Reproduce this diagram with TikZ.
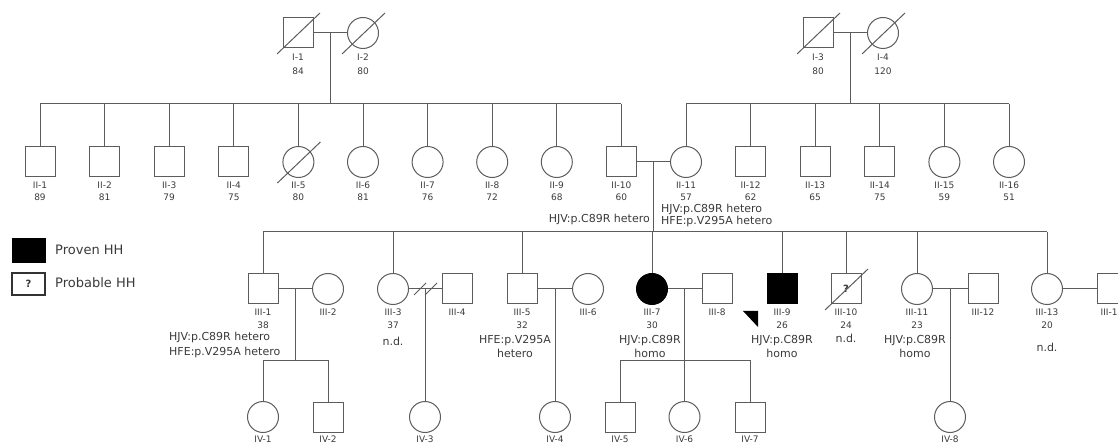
\documentclass[tikz,border=0pt]{standalone}
\usepackage{fontspec}
\setmainfont{DejaVu Sans}
\usepackage{tikz}
\usetikzlibrary{positioning,calc}
\definecolor{pdline}{HTML}{5C5C5C}
\definecolor{pdtext}{HTML}{3A3A3A}
\definecolor{pdfill}{HTML}{000000}

\begin{document}
\begin{tikzpicture}[x=1pt, y=-1pt,
  male/.style={draw=pdline, line width=1pt, minimum size=30pt, inner sep=0pt},
  female/.style={male, circle, minimum size=31pt},
  affected/.style={fill=pdfill, draw=pdfill},
  link/.style={draw=pdline, line width=1pt},
  lbl/.style={font=\fontsize{9}{9}\selectfont, text=pdtext, inner sep=0pt,
    text height=6.5pt, text depth=1.5pt},
  note/.style={lbl, font=\fontsize{11}{11}\selectfont, text height=8pt, text depth=2pt},
  keytext/.style={lbl, font=\fontsize{13}{13}\selectfont, text height=9.5pt, text depth=2.5pt},
  ]
  \useasboundingbox (0,0) rectangle (1118,443);

  % generation I
  \node[male] (i1) at (298,33) {};
  \node[female] (i2) at (363,33) {};
  \node[male] (i3) at (818,33) {};
  \node[female] (i4) at (883,33) {};
  \node[lbl] (i1n) at (298,58) {I-1};  \node[lbl] (i1a) at (298,72) {84};
  \node[lbl] (i2n) at (363,58) {I-2};  \node[lbl] (i2a) at (363,72) {80};
  \node[lbl] (i3n) at (818,58) {I-3};  \node[lbl] (i3a) at (818,72) {80};
  \node[lbl] (i4n) at (883,58) {I-4};  \node[lbl] (i4a) at (883,72) {120};

  % generation II
  \node[male] (ii1) at (40,162) {};
  \node[male] (ii2) at (104.6,162) {};
  \node[male] (ii3) at (169.2,162) {};
  \node[male] (ii4) at (233.8,162) {};
  \node[female] (ii5) at (298.4,162) {};
  \node[female] (ii6) at (363,162) {};
  \node[female] (ii7) at (427.6,162) {};
  \node[female] (ii8) at (492.2,162) {};
  \node[female] (ii9) at (556.8,162) {};
  \node[male] (ii10) at (621.4,162) {};
  \node[female] (ii11) at (686,162) {};
  \node[male] (ii12) at (750.6,162) {};
  \node[male] (ii13) at (815.2,162) {};
  \node[male] (ii14) at (879.8,162) {};
  \node[female] (ii15) at (944.4,162) {};
  \node[female] (ii16) at (1009,162) {};
  \foreach \k/\age in {1/89,2/81,3/79,4/75,5/80,6/81,7/76,8/72,9/68,10/60,
                       11/57,12/62,13/65,14/75,15/59,16/51}{
    \node[lbl] (ii\k n) at ($(ii\k)+(0,24)$) {II-\k};
    \node[lbl] (ii\k a) at ($(ii\k)+(0,36)$) {\age};
  }
  \node[note, anchor=east] (ii10g) at (650,220) {HJV:p.C89R hetero};
  \node[note, anchor=west] (ii11g) at (661,210) {HJV:p.C89R hetero};
  \node[note, anchor=west] (ii11h) at (661,222) {HFE:p.V295A hetero};

  % generation III
  \node[male] (iii1) at (263,289) {};
  \node[female] (iii2) at (328,289) {};
  \node[female] (iii3) at (393,289) {};
  \node[male] (iii4) at (457,289) {};
  \node[male] (iii5) at (522,289) {};
  \node[female] (iii6) at (588,289) {};
  \node[female, affected] (iii7) at (652,289) {};
  \node[male] (iii8) at (717,289) {};
  \node[male, affected] (iii9) at (782,289) {};
  \node[male, font=\fontsize{10}{10}\selectfont\bfseries, text=pdtext] (iii10) at (846,289) {?};
  \node[female] (iii11) at (917,289) {};
  \node[male] (iii12) at (983,289) {};
  \node[female] (iii13) at (1047,289) {};
  \node[male] (iii14) at (1112,289) {};
  \foreach \k in {1,...,14}
    \node[lbl] (iii\k n) at ($(iii\k)+(0,24)$) {III-\k};
  \node[lbl] (iii1a) at (263,326) {38};
  \node[note, anchor=west] (iii1g) at (169,337) {HJV:p.C89R hetero};
  \node[note, anchor=west] (iii1h) at (169,352) {HFE:p.V295A hetero};
  \node[lbl] (iii3a) at (393,326) {37};
  \node[note] (iii3g) at (393,342) {n.d.};
  \node[lbl] (iii5a) at (522,326) {32};
  \node[note] (iii5g) at (515,340) {HFE:p.V295A};
  \node[note] (iii5h) at (515,354) {hetero};
  \node[lbl] (iii7a) at (652,326) {30};
  \node[note] (iii7g) at (650,340) {HJV:p.C89R};
  \node[note] (iii7h) at (650,354) {homo};
  \node[lbl] (iii9a) at (782,326) {26};
  \node[note] (iii9g) at (782,340) {HJV:p.C89R};
  \node[note] (iii9h) at (782,354) {homo};
  \node[lbl] (iii10a) at (846,326) {24};
  \node[note] (iii10g) at (846,339) {n.d.};
  \node[lbl] (iii11a) at (917,326) {23};
  \node[note] (iii11g) at (915,340) {HJV:p.C89R};
  \node[note] (iii11h) at (915,354) {homo};
  \node[lbl] (iii13a) at (1047,326) {20};
  \node[note] (iii13g) at (1047,348) {n.d.};

  % generation IV
  \node[female] (iv1) at (263,417) {};
  \node[male] (iv2) at (328,417) {};
  \node[female] (iv3) at (425,417) {};
  \node[female] (iv4) at (555,417) {};
  \node[male] (iv5) at (620,417) {};
  \node[female] (iv6) at (684.5,417) {};
  \node[male] (iv7) at (750,417) {};
  \node[female] (iv8) at (950,417) {};
  \foreach \k in {1,...,8}
    \node[lbl] (iv\k n) at ($(iv\k)+(0,23)$) {IV-\k};

  % legend
  \node[male, affected, minimum width=33pt, minimum height=24pt] (kprov) at (28.5,251) {};
  \node[keytext, anchor=west] (kprovt) at (55,251) {Proven HH};
  \node[male, line width=1.3pt, draw=black!80, minimum width=33pt, minimum height=22pt,
    font=\fontsize{10}{10}\selectfont\bfseries, text=pdtext] (kprob) at (28.5,284) {?};
  \node[keytext, anchor=west] (kprobt) at (55,284) {Probable HH};

  % couples and lines of descent
  \coordinate (s2) at (0,104);
  \coordinate (s3) at (0,232);
  \coordinate (s4) at (0,360);
  \coordinate (c1) at ($(i1)!0.5!(i2)$);
  \coordinate (c2) at ($(i3)!0.5!(i4)$);
  \coordinate (c3) at ($(ii10)!0.5!(ii11)$);
  \coordinate (c4) at ($(iii1)!0.5!(iii2)$);
  \coordinate (c5) at ($(iii3)!0.5!(iii4)$);
  \coordinate (c6) at ($(iii5)!0.5!(iii6)$);
  \coordinate (c7) at ($(iii7)!0.5!(iii8)$);
  \coordinate (c8) at ($(iii11)!0.5!(iii12)$);

  \draw[link] (i1) -- (i2);
  \draw[link] (i3) -- (i4);
  \draw[link] (c1) -- (c1 |- s2);
  \draw[link] (c2) -- (c2 |- s2);
  \draw[link] (ii1.north |- s2) -- (ii10.north |- s2);
  \draw[link] (ii11.north |- s2) -- (ii16.north |- s2);
  \foreach \k in {1,...,16}
    \draw[link] (ii\k.north) -- (ii\k.north |- s2);

  \draw[link] (ii10) -- (ii11);
  \draw[link] (c3) -- (c3 |- s3);
  \draw[link] (iii1.north |- s3) -- (iii13.north |- s3);
  \foreach \k in {1,3,5,7,9,10,11,13}
    \draw[link] (iii\k.north) -- (iii\k.north |- s3);

  \draw[link] (iii1) -- (iii2);
  \draw[link] (iii3) -- (iii4);
  \draw[link] (iii5) -- (iii6);
  \draw[link] (iii7) -- (iii8);
  \draw[link] (iii11) -- (iii12);
  \draw[link] (iii13) -- (iii14);
  \draw[link] ($(c5)+(-11,6)$) -- ($(c5)+(1,-6)$);
  \draw[link] ($(c5)+(0,6)$) -- ($(c5)+(12,-6)$);

  \draw[link] (c4) -- (c4 |- s4);
  \draw[link] (iv1.north |- s4) -- (iv2.north |- s4);
  \draw[link] (iv1.north) -- (iv1.north |- s4);
  \draw[link] (iv2.north) -- (iv2.north |- s4);
  \draw[link] (c5) -- (iv3);
  \draw[link] (c6) -- (iv4);
  \draw[link] (c7) -- (iv6);
  \draw[link] (iv5.north |- s4) -- (iv7.north |- s4);
  \draw[link] (iv5.north) -- (iv5.north |- s4);
  \draw[link] (iv7.north) -- (iv7.north |- s4);
  \draw[link] (c8) -- (iv8);

  % deceased
  \foreach \p in {i1,i2,i3,i4,ii5,iii10}
    \draw[link] ($(\p)+(-21,21)$) -- ($(\p)+(22,-20)$);

  % proband
  \fill[pdfill] (743,311) -- (758,311) -- (758,327) -- cycle;
\end{tikzpicture}
\end{document}
